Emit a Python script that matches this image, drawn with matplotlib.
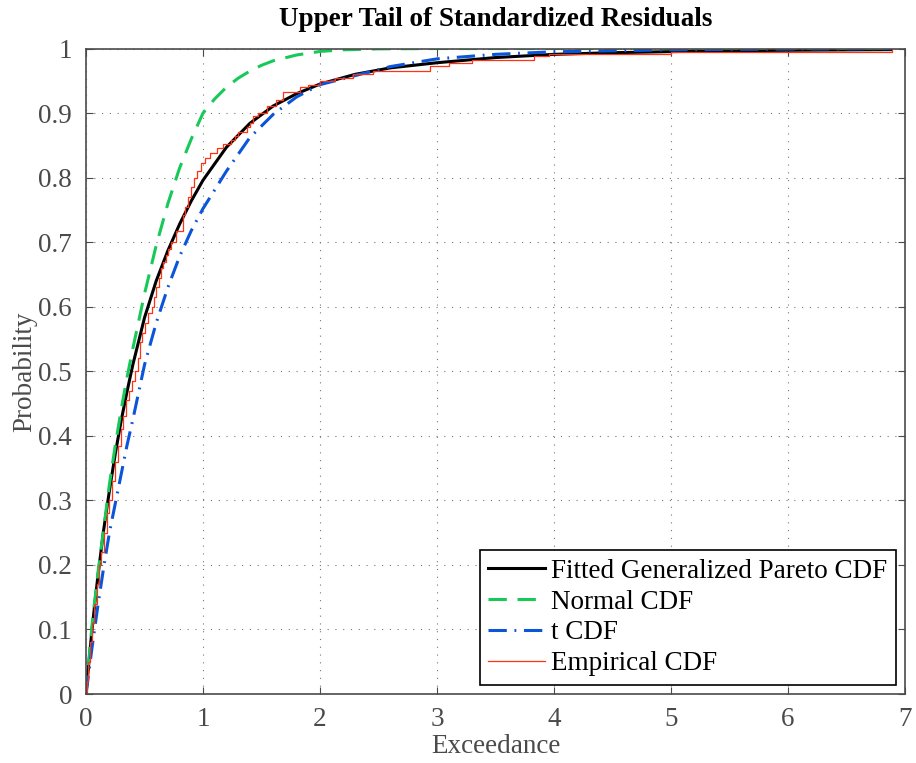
import matplotlib
matplotlib.use('Agg')
import matplotlib.pyplot as plt

plt.rcParams['font.family'] = ['Liberation Serif', 'DejaVu Serif']

# fitted generalized pareto cdf
gp_x = [0, 0.025, 0.05, 0.075, 0.1, 0.15, 0.2, 0.25, 0.3, 0.35, 0.4, 0.5, 0.6, 0.7,
        0.8, 0.9, 1.0, 1.2, 1.4, 1.6, 1.8, 2.0, 2.3, 2.6, 3.0, 3.5, 4.0, 4.5, 5.0,
        5.5, 6.0, 6.88]
gp_y = [0, 0.05, 0.097, 0.14, 0.18, 0.253, 0.315, 0.372, 0.423, 0.468, 0.51, 0.583,
        0.64, 0.687, 0.728, 0.764, 0.796, 0.847, 0.884, 0.911, 0.930, 0.945, 0.960,
        0.970, 0.978, 0.986, 0.991, 0.9935, 0.9952, 0.9965, 0.9973, 0.9983]

# normal cdf
norm_x = [0, 0.05, 0.1, 0.15, 0.2, 0.25, 0.3, 0.35, 0.4, 0.5, 0.6, 0.7, 0.8, 0.9,
          1.0, 1.1, 1.2, 1.3, 1.4, 1.5, 1.6, 1.8, 2.0, 2.2, 2.5, 3.0, 4.0, 5.0, 6.0, 6.88]
norm_y = [0, 0.105, 0.185, 0.255, 0.325, 0.385, 0.44, 0.49, 0.535, 0.62, 0.695, 0.76,
          0.815, 0.86, 0.90, 0.922, 0.94, 0.954, 0.965, 0.974, 0.981, 0.99, 0.9955,
          0.998, 0.9995, 1.0, 1.0, 1.0, 1.0, 1.0]

# t cdf
t_x = [0, 0.05, 0.1, 0.15, 0.2, 0.25, 0.3, 0.35, 0.4, 0.5, 0.6, 0.7, 0.8, 0.9, 1.0,
       1.2, 1.4, 1.6, 1.8, 2.0, 2.3, 2.6, 3.0, 3.5, 4.0, 5.0, 6.0, 6.88]
t_y = [0, 0.07, 0.135, 0.195, 0.25, 0.295, 0.34, 0.385, 0.425, 0.51, 0.575, 0.63,
       0.678, 0.718, 0.752, 0.81, 0.862, 0.898, 0.925, 0.944, 0.958, 0.972, 0.984,
       0.991, 0.995, 0.998, 0.9993, 0.9997]

# empirical cdf, stair corners
emp_x = [0, 0.01, 0.02, 0.035, 0.05, 0.07, 0.09, 0.115, 0.13, 0.155, 0.18, 0.2,
         0.225, 0.25, 0.275, 0.3, 0.32, 0.345, 0.37, 0.39, 0.415, 0.445, 0.46, 0.48,
         0.5, 0.53, 0.56, 0.58, 0.6, 0.62, 0.64, 0.66, 0.685, 0.7, 0.73, 0.765, 0.825,
         0.85, 0.875, 0.9, 0.925, 0.95, 0.98, 1.02, 1.06, 1.12, 1.17, 1.24, 1.27, 1.3,
         1.38, 1.4, 1.43, 1.47, 1.55, 1.62, 1.68, 1.83, 1.9, 2.0, 2.13, 2.28, 2.45,
         2.94, 3.1, 3.3, 3.83, 3.96, 5.0, 6.89]
emp_y = [0, 0.02, 0.05, 0.08, 0.11, 0.14, 0.17, 0.2, 0.22, 0.25, 0.28, 0.3, 0.33,
         0.36, 0.385, 0.41, 0.43, 0.455, 0.47, 0.485, 0.5, 0.52, 0.545, 0.56, 0.575,
         0.59, 0.6, 0.615, 0.63, 0.645, 0.66, 0.67, 0.68, 0.69, 0.7, 0.718, 0.742,
         0.755, 0.77, 0.785, 0.8, 0.811, 0.822, 0.83, 0.838, 0.846, 0.852, 0.858,
         0.865, 0.871, 0.878, 0.884, 0.895, 0.9, 0.911, 0.921, 0.932, 0.94, 0.943,
         0.95, 0.955, 0.96, 0.965, 0.973, 0.978, 0.983, 0.988, 0.991, 0.995, 1.0]

x_ticks = [0, 1, 2, 3, 4, 5, 6, 7]
y_ticks = [0, 0.1, 0.2, 0.3, 0.4, 0.5, 0.6, 0.7, 0.8, 0.9, 1]
y_labels = ['0', '0.1', '0.2', '0.3', '0.4', '0.5', '0.6', '0.7', '0.8', '0.9', '1']

grey = '#4a4a4a'
fs = 19.5

fig = plt.figure(figsize=(9.16, 7.63), dpi=100)
ax = fig.add_axes([0.0939, 0.0904, 0.8941, 0.846])

ax.plot(gp_x, gp_y, color='black', linewidth=2.2, label='Fitted Generalized Pareto CDF')
ax.plot(norm_x, norm_y, color='#18c95a', linewidth=2.2, linestyle=(0, (6, 3.5)),
        label='Normal CDF')
ax.plot(t_x, t_y, color='#0a55d9', linewidth=2.2, linestyle=(0, (6, 2.5, 0.6, 2.5)),
        label='t CDF')
ax.plot(emp_x, emp_y, color='#ff3311', linewidth=0.9, drawstyle='steps-post',
        label='Empirical CDF')

ax.set_xlim(0, 7)
ax.set_ylim(0, 1)
ax.set_xticks(x_ticks)
ax.set_xticklabels([str(v) for v in x_ticks])
ax.set_yticks(y_ticks)
ax.set_yticklabels(y_labels)

ax.grid(True, color='#777777', linestyle=(0, (1, 6)), linewidth=0.8)
ax.tick_params(direction='in', length=5, width=0.8, top=True, right=True,
               labelsize=fs, colors=grey)
ax.tick_params(axis='x', pad=9)
ax.tick_params(axis='y', pad=10)
for s in ax.spines.values():
    s.set_color(grey)
    s.set_linewidth(1.2)

ax.set_title('Upper Tail of Standardized Residuals', fontsize=fs, fontweight='bold', pad=16)
ax.set_xlabel('Exceedance', fontsize=fs, color=grey, labelpad=2)
ax.set_ylabel('Probability', fontsize=fs, color=grey, labelpad=1)

leg = ax.legend(loc='lower right', fontsize=fs, fancybox=False, framealpha=1,
                edgecolor='black', handlelength=2.1, handletextpad=0.25,
                labelspacing=0.22, borderpad=0.3, borderaxespad=0.35)
leg.get_frame().set_linewidth(1.2)

plt.savefig('out.png', dpi=100)
plt.close()
